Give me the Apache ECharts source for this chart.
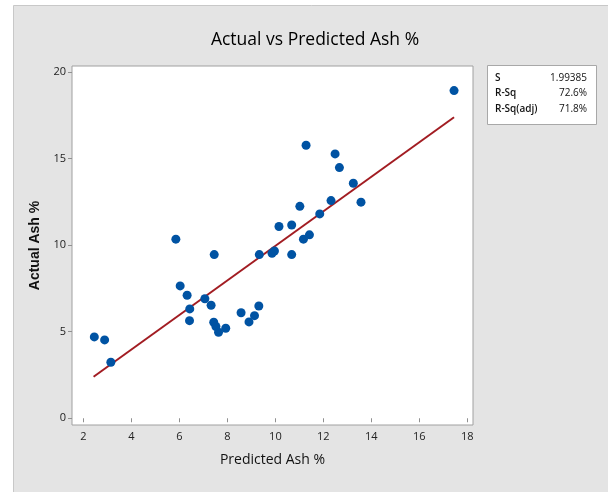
<!DOCTYPE html>
<html><head><meta charset="utf-8">
<script src="https://cdn.jsdelivr.net/npm/echarts@6/dist/echarts.min.js"></script>
<style>html,body{margin:0;padding:0;background:#fff}#c{width:608px;height:492px}</style>
</head><body><div id="c"></div>
<script>
const predicted = [17.45,11.28,12.49,12.67,13.25,13.57,11.02,12.32,11.85,10.15,10.68,11.42,11.17,5.85,7.45,9.33,9.86,9.96,10.68,6.03,6.32,7.06,7.32,6.43,6.42,8.57,8.90,9.13,9.31,7.43,7.52,7.63,7.93,2.45,2.88,3.14];
const actual    = [18.94,15.78,15.28,14.49,13.58,12.49,12.25,12.58,11.81,11.08,11.17,10.60,10.35,10.35,9.46,9.46,9.54,9.67,9.46,7.65,7.11,6.91,6.53,6.32,5.64,6.10,5.57,5.93,6.49,5.55,5.30,4.97,5.20,4.70,4.53,3.24];
const fitX = [2.42, 17.45];
const fitY = [2.40, 17.40];
const xTicks = [2,4,6,8,10,12,14,16,18];
const yTicks = [0,5,10,15,20];
const statLabels = ["S","R-Sq","R-Sq(adj)"];
const statValues = ["1.99385","72.6%","71.8%"];
const titleText = "Actual vs Predicted Ash %";
const xTitle = "Predicted Ash %";
const yTitle = "Actual Ash %";

const chart = echarts.init(document.getElementById('c'), null, {renderer:'canvas'});
const uiFont = '"Open Sans", "Noto Sans", sans-serif';
const statsGraphic = [];
statLabels.forEach((l,i)=>{
  statsGraphic.push({type:'text', left:495, top:73+i*15.5, style:{text:l, font:'600 10px '+uiFont, fill:'#111'}});
  statsGraphic.push({type:'text', right:21, top:73+i*15.5, style:{text:statValues[i], font:'10px '+uiFont, fill:'#111', textAlign:'right'}});
});
chart.setOption({
  backgroundColor:'#fff',
  animation:false,
  title:{text:titleText, left:310, top:26, textAlign:'center',
    textStyle:{fontFamily:uiFont, fontSize:17.5, fontWeight:'normal', color:'#000'}},
  graphic:[
    {type:'rect', left:13, top:5, z:-10, shape:{width:600, height:492},
      style:{fill:'#e4e4e4', stroke:'#c8c8c8', lineWidth:1}},
    {type:'rect', left:487, top:65, shape:{width:109, height:59},
      style:{fill:'#fff', stroke:'#a8a8a8', lineWidth:1}},
    ...statsGraphic
  ],
  grid:{left:72, right:135, top:66, bottom:67, show:true, backgroundColor:'#fff', borderColor:'#a0a0a0', borderWidth:1},
  xAxis:{type:'value', min:1.52, max:18.24,
    name:xTitle, nameLocation:'middle', nameGap:28,
    nameTextStyle:{fontFamily:uiFont, fontSize:14, color:'#111'},
    axisLine:{show:false}, splitLine:{show:false},
    axisTick:{show:true, length:4, lineStyle:{color:'#909090'}, customValues:xTicks},
    axisLabel:{customValues:xTicks, fontFamily:uiFont, fontSize:11, color:'#222', margin:6}},
  yAxis:{type:'value', min:-0.39, max:20.36,
    name:yTitle, nameLocation:'middle', nameGap:28, nameRotate:90,
    nameTextStyle:{fontFamily:'"Liberation Sans", Arial, sans-serif', fontSize:14, fontWeight:'bold', color:'#111'},
    axisLine:{show:false}, splitLine:{show:false},
    axisTick:{show:true, length:4, lineStyle:{color:'#909090'}, customValues:yTicks},
    axisLabel:{customValues:yTicks, fontFamily:uiFont, fontSize:11, color:'#222', margin:6}},
  series:[
    {type:'line', data:fitX.map((x,i)=>[x,fitY[i]]), showSymbol:false, symbol:'none',
      lineStyle:{color:'#a21c22', width:2}, z:2},
    {type:'scatter', data:predicted.map((x,i)=>[x,actual[i]]), symbol:'circle', symbolSize:9,
      itemStyle:{color:'#0053a3', opacity:1}, z:3}
  ]
});
</script></body></html>
